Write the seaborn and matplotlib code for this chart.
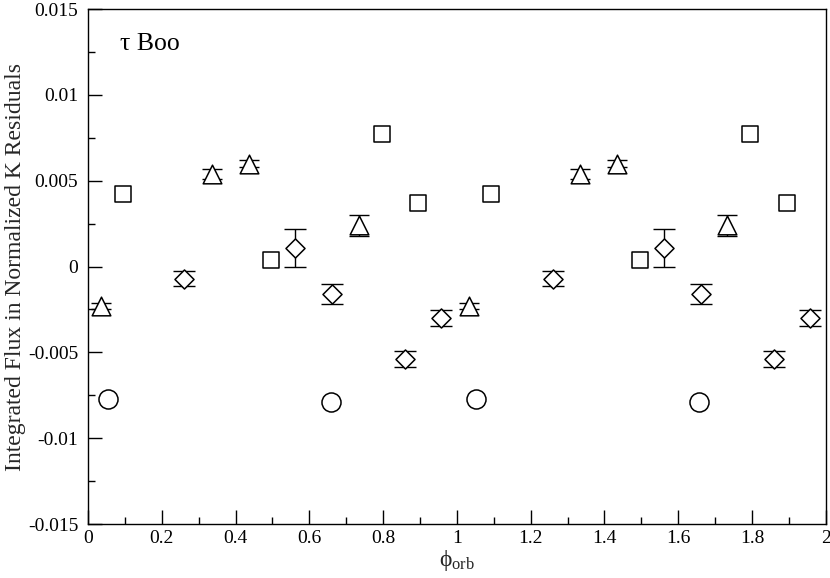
import numpy as np
import pandas as pd
import matplotlib
matplotlib.use("Agg")
import matplotlib.pyplot as plt
import seaborn as sns
from matplotlib.ticker import FixedLocator, FixedFormatter, MultipleLocator

# ---- data ----
tri_phase = [0.035, 0.336, 0.436, 0.734, 1.033, 1.333, 1.434, 1.732]
tri_flux = [-0.0023, 0.0054, 0.0060, 0.0024, -0.0023, 0.0054, 0.0060, 0.0024]
tri_err = [0.0002, 0.0003, 0.0002, 0.0006, 0.0002, 0.0003, 0.0002, 0.0006]

sq_phase = [0.095, 0.496, 0.797, 0.894, 1.092, 1.496, 1.794, 1.894]
sq_flux = [0.0042, 0.0004, 0.0077, 0.0037, 0.0042, 0.0004, 0.0077, 0.0037]

dia_phase = [0.260, 0.561, 0.662, 0.859, 0.958, 1.260, 1.561, 1.662, 1.859, 1.958]
dia_flux = [-0.0007, 0.0011, -0.0016, -0.0054, -0.0030,
            -0.0007, 0.0011, -0.0016, -0.0054, -0.0030]
dia_err = [0.00045, 0.0011, 0.0006, 0.00045, 0.00045,
           0.00045, 0.0011, 0.0006, 0.00045, 0.00045]

circ_phase = [0.053, 0.659, 1.051, 1.656]
circ_flux = [-0.0077, -0.0079, -0.0077, -0.0079]

x_ticks = [0, 0.2, 0.4, 0.6, 0.8, 1.0, 1.2, 1.4, 1.6, 1.8, 2.0]
x_labels = ["0", "0.2", "0.4", "0.6", "0.8", "1", "1.2", "1.4", "1.6", "1.8", "2"]
y_ticks = [-0.015, -0.01, -0.005, 0, 0.005, 0.01, 0.015]
y_labels = ["-0.015", "-0.01", "-0.005", "0", "0.005", "0.01", "0.015"]

sns.set_theme(style="ticks")
plt.rcParams["font.family"] = ["Liberation Serif", "DejaVu Serif"]
plt.rcParams["mathtext.fontset"] = "custom"
plt.rcParams["mathtext.rm"] = "Liberation Serif"
plt.rcParams["mathtext.it"] = "Liberation Serif:italic"
plt.rcParams["mathtext.fallback"] = "stix"

fig = plt.figure(figsize=(8.3, 5.78), dpi=100)
ax = fig.add_axes([0.106, 0.0934, 0.889, 0.891])

# error bars (behind markers)
ax.errorbar(tri_phase, tri_flux, yerr=tri_err, fmt="none", ecolor="black",
            elinewidth=1.0, capsize=7, capthick=1.0, zorder=2)
ax.errorbar(dia_phase, dia_flux, yerr=dia_err, fmt="none", ecolor="black",
            elinewidth=1.0, capsize=8, capthick=1.0, zorder=2)

common = dict(facecolor="white", edgecolor="black", linewidth=1.1, zorder=3, ax=ax, legend=False)
sns.scatterplot(x=tri_phase, y=tri_flux, marker="^", s=180, **common)
sns.scatterplot(x=sq_phase, y=sq_flux, marker="s", s=132, **common)
sns.scatterplot(x=dia_phase, y=dia_flux, marker="D", s=94, **common)
sns.scatterplot(x=circ_phase, y=circ_flux, marker="o", s=188, **common)

ax.set_xlim(0, 2)
ax.set_ylim(-0.015, 0.015)
ax.xaxis.set_major_locator(FixedLocator(x_ticks))
ax.xaxis.set_major_formatter(FixedFormatter(x_labels))
ax.xaxis.set_minor_locator(MultipleLocator(0.1))
ax.yaxis.set_major_locator(FixedLocator(y_ticks))
ax.yaxis.set_major_formatter(FixedFormatter(y_labels))
ax.yaxis.set_minor_locator(MultipleLocator(0.0025))

ax.tick_params(which="both", direction="in", top=False, right=False,
               colors="black", width=1.0, labelsize=14)
ax.tick_params(axis="y", pad=7)
ax.tick_params(axis="x", pad=4)
ax.tick_params(which="major", length=10)
ax.tick_params(which="minor", length=5)
for sp in ax.spines.values():
    sp.set_color("black")
    sp.set_linewidth(1.0)

ax.set_xlabel("$\\mathrm{\u03d5}_{\\mathrm{orb}}$", fontsize=17, labelpad=1)
ax.set_ylabel("Integrated Flux in Normalized K Residuals", fontsize=17, labelpad=1)
ax.text(0.087, 0.0126, "τ Boo", fontsize=18.5, ha="left", va="baseline", color="black")

fig.savefig("out.png", dpi=100)
